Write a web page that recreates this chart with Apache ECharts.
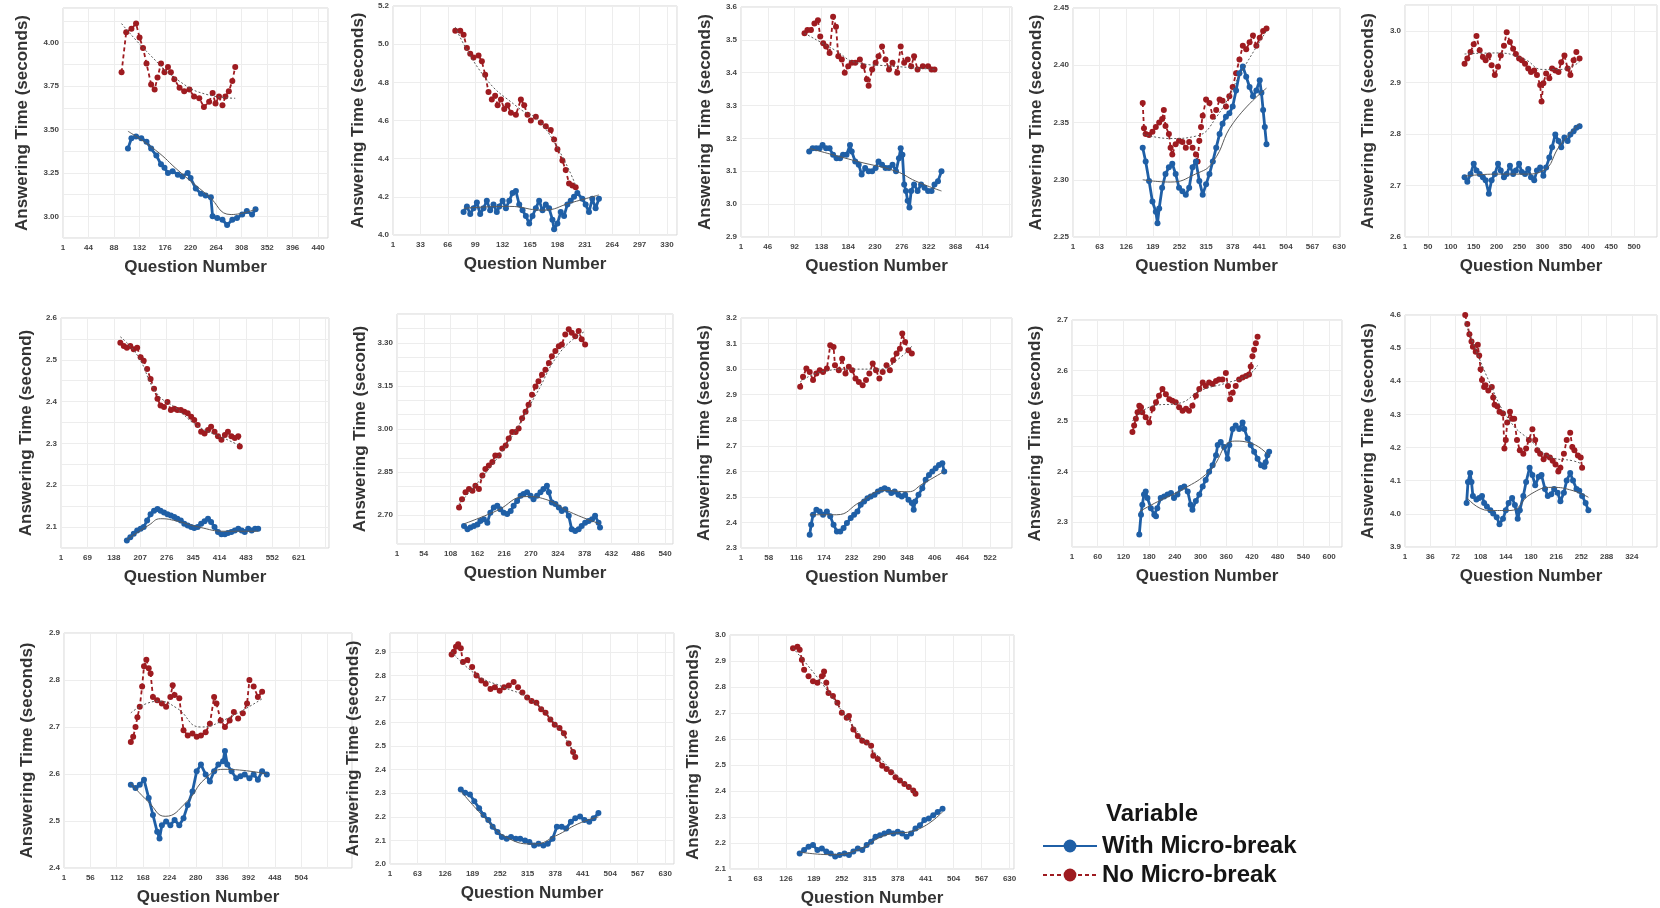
<!DOCTYPE html>
<html><head><meta charset="utf-8">
<script src="https://cdn.jsdelivr.net/npm/echarts@6/dist/echarts.min.js"></script>
<style>html,body{margin:0;padding:0;background:#fff}#c{width:1660px;height:908px}</style>
</head><body><div id="c"></div>
<script>
// ---------------- DATA (question number, answering time) ----------------
const SERIES_NAMES = ['With Micro-break', 'No Micro-break'];

const P1_WITH = [[112,3.39],[118,3.45],[126,3.46],[135,3.45],[144,3.43],[152,3.39],[161,3.35],[169,3.30],[175,3.28],[181,3.25],[189,3.26],[198,3.24],[206,3.23],[215,3.25],[220,3.22],[229,3.16],[238,3.13],[246,3.12],[255,3.11],[258,3.00],[266,2.99],[275,2.98],[283,2.95],[292,2.98],[300,2.99],[309,3.01],[317,3.03],[326,3.01],[332,3.04]];
const P1_NO = [[101,3.83],[109,4.06],[118,4.08],[126,4.11],[132,4.03],[138,3.97],[144,3.88],[152,3.76],[158,3.73],[163,3.80],[169,3.88],[175,3.83],[181,3.86],[186,3.83],[192,3.79],[201,3.74],[209,3.72],[218,3.73],[226,3.69],[235,3.68],[243,3.63],[252,3.66],[258,3.71],[263,3.65],[269,3.69],[275,3.64],[280,3.69],[286,3.72],[292,3.78],[297,3.86]];
const P1_WITH_FIT = [[112,3.49],[160,3.38],[200,3.26],[250,3.12],[290,3.01],[332,3.04]];
const P1_NO_FIT = [[101,4.11],[150,3.93],[200,3.78],[250,3.70],[297,3.68]];

const P2_WITH = [[85,4.12],[89,4.15],[93,4.11],[97,4.14],[101,4.17],[105,4.11],[109,4.14],[113,4.18],[117,4.13],[121,4.16],[125,4.12],[128,4.15],[132,4.18],[136,4.14],[140,4.18],[144,4.22],[148,4.23],[152,4.16],[156,4.13],[160,4.10],[164,4.06],[168,4.10],[172,4.14],[176,4.18],[180,4.13],[184,4.16],[188,4.14],[192,4.08],[194,4.03],[198,4.06],[202,4.12],[206,4.10],[210,4.16],[214,4.18],[218,4.20],[222,4.22],[228,4.19],[232,4.16],[236,4.12],[240,4.19],[244,4.14],[248,4.19]];
const P2_NO = [[75,5.07],[81,5.07],[85,5.05],[89,4.98],[93,4.95],[97,4.93],[103,4.94],[107,4.91],[111,4.84],[115,4.75],[119,4.71],[123,4.73],[126,4.68],[130,4.71],[134,4.66],[138,4.68],[142,4.64],[148,4.63],[154,4.71],[158,4.68],[162,4.63],[166,4.60],[172,4.62],[178,4.59],[184,4.57],[190,4.55],[194,4.50],[198,4.45],[204,4.39],[208,4.34],[212,4.27],[216,4.26],[220,4.25]];
const P2_WITH_FIT = [[85,4.14],[140,4.15],[180,4.13],[215,4.17],[248,4.21]];
const P2_NO_FIT = [[75,5.09],[110,4.83],[150,4.67],[180,4.58],[220,4.26]];

const P3_WITH = [[117,3.16],[123,3.17],[129,3.17],[135,3.17],[140,3.18],[146,3.17],[152,3.17],[158,3.15],[164,3.14],[170,3.14],[175,3.15],[181,3.15],[187,3.18],[190,3.16],[196,3.13],[202,3.12],[207,3.09],[213,3.11],[219,3.10],[225,3.10],[231,3.11],[236,3.13],[242,3.12],[248,3.11],[254,3.11],[260,3.12],[266,3.10],[271,3.14],[274,3.17],[277,3.15],[280,3.06],[283,3.04],[286,3.01],[289,2.99],[292,3.04],[297,3.06],[303,3.04],[309,3.06],[315,3.05],[321,3.04],[327,3.04],[332,3.06],[338,3.07],[344,3.10]];
const P3_NO = [[109,3.52],[114,3.53],[120,3.53],[126,3.55],[132,3.56],[136,3.51],[141,3.49],[146,3.48],[152,3.46],[158,3.57],[163,3.54],[167,3.45],[173,3.44],[178,3.40],[184,3.42],[190,3.43],[196,3.43],[204,3.44],[210,3.42],[216,3.38],[219,3.36],[225,3.41],[231,3.43],[236,3.45],[242,3.48],[248,3.44],[254,3.41],[260,3.43],[268,3.40],[274,3.48],[280,3.43],[286,3.44],[292,3.42],[297,3.45],[303,3.41],[312,3.42],[321,3.42],[327,3.41],[332,3.41]];
const P3_WITH_FIT = [[117,3.17],[200,3.13],[266,3.10],[300,3.07],[344,3.04]];
const P3_NO_FIT = [[109,3.52],[160,3.47],[200,3.43],[260,3.42],[332,3.41]];

const P4_WITH = [[165,2.328],[172,2.316],[180,2.299],[188,2.281],[196,2.272],[200,2.262],[204,2.275],[211,2.293],[219,2.305],[227,2.311],[235,2.314],[243,2.305],[251,2.293],[259,2.290],[267,2.287],[275,2.293],[283,2.311],[291,2.316],[299,2.299],[307,2.287],[315,2.296],[323,2.305],[331,2.316],[339,2.328],[347,2.340],[354,2.349],[362,2.355],[370,2.358],[378,2.364],[386,2.378],[394,2.393],[402,2.399],[410,2.390],[418,2.381],[426,2.373],[434,2.378],[442,2.387],[446,2.376],[450,2.361],[454,2.346],[458,2.331]];
const P4_NO = [[165,2.367],[168,2.345],[172,2.340],[180,2.339],[188,2.342],[196,2.346],[204,2.350],[211,2.353],[215,2.361],[219,2.347],[227,2.340],[231,2.328],[235,2.322],[243,2.331],[251,2.334],[259,2.333],[267,2.328],[275,2.333],[283,2.328],[291,2.322],[295,2.316],[299,2.334],[303,2.346],[307,2.356],[315,2.370],[323,2.367],[331,2.355],[339,2.361],[347,2.370],[354,2.369],[362,2.364],[370,2.373],[378,2.381],[386,2.393],[394,2.405],[402,2.417],[410,2.414],[418,2.420],[426,2.426],[434,2.417],[442,2.424],[450,2.430],[458,2.432]];
const P4_WITH_FIT = [[165,2.300],[230,2.298],[290,2.305],[330,2.315],[380,2.350],[458,2.380]];
const P4_NO_FIT = [[165,2.340],[230,2.336],[290,2.338],[340,2.355],[400,2.395],[458,2.430]];

const P5_WITH = [[130,2.716],[136,2.707],[143,2.722],[150,2.742],[156,2.729],[163,2.722],[170,2.716],[176,2.710],[183,2.684],[189,2.710],[196,2.722],[203,2.742],[209,2.729],[216,2.716],[222,2.722],[229,2.738],[236,2.722],[242,2.729],[249,2.742],[255,2.726],[262,2.722],[269,2.732],[275,2.716],[282,2.710],[288,2.729],[295,2.735],[302,2.719],[308,2.735],[315,2.754],[321,2.774],[328,2.799],[335,2.786],[341,2.774],[348,2.793],[355,2.786],[361,2.799],[368,2.805],[374,2.812],[381,2.815]];
const P5_NO = [[130,2.936],[136,2.946],[143,2.959],[150,2.974],[156,2.990],[163,2.962],[170,2.949],[176,2.943],[183,2.952],[189,2.933],[196,2.914],[203,2.930],[209,2.952],[216,2.971],[222,2.997],[229,2.978],[236,2.965],[242,2.955],[249,2.946],[255,2.943],[262,2.936],[269,2.927],[275,2.920],[282,2.923],[288,2.914],[295,2.895],[298,2.863],[302,2.898],[308,2.917],[315,2.908],[321,2.927],[328,2.923],[335,2.920],[341,2.939],[348,2.952],[355,2.927],[361,2.914],[368,2.943],[374,2.959],[381,2.946]];
const P5_WITH_FIT = [[130,2.718],[200,2.722],[260,2.722],[300,2.728],[340,2.780],[381,2.820]];
const P5_NO_FIT = [[130,2.955],[200,2.957],[260,2.945],[300,2.925],[340,2.925],[381,2.940]];

const P6_WITH = [[172,2.068],[181,2.076],[190,2.084],[199,2.092],[208,2.096],[216,2.100],[225,2.116],[234,2.131],[243,2.139],[252,2.143],[260,2.139],[269,2.135],[278,2.131],[287,2.128],[296,2.124],[304,2.120],[313,2.116],[322,2.108],[331,2.104],[340,2.100],[348,2.098],[357,2.100],[366,2.108],[375,2.114],[384,2.120],[392,2.112],[401,2.100],[410,2.088],[419,2.083],[428,2.083],[436,2.086],[445,2.088],[454,2.092],[463,2.096],[472,2.092],[480,2.088],[489,2.096],[498,2.092],[507,2.096],[515,2.096]];
const P6_NO = [[155,2.541],[164,2.533],[172,2.529],[181,2.533],[190,2.525],[199,2.529],[208,2.506],[216,2.498],[225,2.478],[234,2.454],[243,2.431],[252,2.407],[260,2.391],[269,2.387],[278,2.399],[287,2.380],[296,2.383],[304,2.380],[313,2.380],[322,2.376],[331,2.372],[340,2.364],[348,2.356],[357,2.344],[366,2.328],[375,2.324],[384,2.332],[392,2.340],[401,2.328],[410,2.317],[419,2.309],[428,2.320],[436,2.328],[445,2.317],[454,2.313],[463,2.317],[467,2.293]];
const P6_WITH_FIT = [[172,2.070],[230,2.105],[260,2.120],[300,2.115],[360,2.100],[430,2.090],[515,2.090]];
const P6_NO_FIT = [[155,2.555],[200,2.510],[250,2.420],[300,2.385],[360,2.340],[420,2.315],[467,2.295]];

const P7_WITH = [[135,2.663],[142,2.651],[148,2.657],[155,2.663],[162,2.668],[168,2.680],[175,2.686],[182,2.674],[188,2.709],[195,2.727],[202,2.733],[208,2.721],[215,2.709],[222,2.704],[229,2.715],[235,2.733],[242,2.750],[249,2.768],[255,2.774],[262,2.780],[269,2.768],[275,2.756],[282,2.768],[289,2.780],[295,2.791],[302,2.803],[306,2.780],[312,2.744],[319,2.739],[326,2.727],[332,2.715],[339,2.721],[346,2.698],[352,2.651],[359,2.645],[366,2.651],[372,2.663],[379,2.674],[386,2.680],[393,2.686],[399,2.698],[406,2.674],[409,2.657]];
const P7_NO = [[125,2.727],[131,2.756],[138,2.780],[145,2.791],[152,2.785],[158,2.803],[165,2.791],[172,2.838],[178,2.861],[185,2.873],[192,2.885],[198,2.908],[205,2.908],[212,2.932],[219,2.943],[225,2.967],[232,2.990],[239,2.990],[245,3.002],[252,3.037],[259,3.060],[265,3.084],[272,3.119],[279,3.148],[285,3.166],[292,3.189],[299,3.206],[306,3.230],[312,3.253],[319,3.271],[326,3.288],[332,3.294],[339,3.329],[346,3.347],[352,3.335],[359,3.323],[366,3.341],[372,3.312],[379,3.294]];
const P7_WITH_FIT = [[135,2.670],[200,2.715],[260,2.765],[300,2.755],[350,2.710],[409,2.670]];
const P7_NO_FIT = [[125,2.740],[180,2.850],[230,2.970],[280,3.120],[330,3.270],[379,3.340]];

const P8_WITH = [[144,2.352],[147,2.391],[151,2.430],[158,2.450],[165,2.443],[172,2.430],[180,2.443],[187,2.424],[194,2.391],[201,2.365],[208,2.365],[215,2.378],[222,2.398],[230,2.417],[237,2.430],[244,2.443],[251,2.469],[258,2.482],[265,2.495],[272,2.502],[280,2.508],[287,2.521],[294,2.528],[301,2.534],[308,2.528],[315,2.515],[322,2.521],[330,2.508],[337,2.502],[344,2.508],[351,2.489],[358,2.476],[362,2.450],[365,2.482],[372,2.508],[380,2.534],[387,2.567],[394,2.586],[401,2.599],[408,2.612],[415,2.625],[422,2.632],[426,2.599]];
const P8_NO = [[124,2.931],[130,2.970],[137,3.002],[144,2.989],[151,2.957],[158,2.983],[165,2.996],[172,2.989],[180,3.002],[187,3.093],[194,3.087],[197,3.015],[205,2.996],[212,3.041],[219,2.983],[226,3.009],[233,2.996],[240,2.963],[247,2.950],[255,2.937],[262,2.957],[269,2.983],[276,3.022],[283,2.996],[290,2.963],[297,2.989],[305,3.015],[312,2.996],[319,3.035],[326,3.061],[333,3.080],[338,3.139],[344,3.106],[351,3.074],[358,3.061]];
const P8_WITH_FIT = [[144,2.430],[200,2.430],[250,2.480],[300,2.525],[350,2.520],[380,2.550],[426,2.600]];
const P8_NO_FIT = [[124,2.950],[170,2.990],[230,3.000],[290,3.000],[330,3.040],[358,3.090]];

const P9_WITH = [[157,2.275],[161,2.314],[164,2.334],[168,2.354],[172,2.360],[176,2.347],[184,2.327],[192,2.314],[196,2.311],[199,2.327],[207,2.347],[215,2.350],[223,2.354],[231,2.357],[238,2.347],[246,2.354],[254,2.367],[262,2.370],[270,2.360],[277,2.334],[281,2.324],[289,2.341],[297,2.354],[305,2.370],[312,2.383],[320,2.399],[328,2.412],[336,2.432],[340,2.452],[347,2.458],[355,2.448],[363,2.425],[367,2.452],[375,2.484],[382,2.491],[390,2.484],[398,2.497],[402,2.484],[410,2.465],[417,2.452],[425,2.439],[433,2.425],[441,2.412],[449,2.409],[452,2.418],[456,2.432],[460,2.439]];
const P9_NO = [[141,2.478],[145,2.491],[149,2.504],[153,2.517],[157,2.530],[161,2.527],[164,2.517],[172,2.507],[180,2.497],[188,2.524],[196,2.537],[203,2.550],[211,2.563],[219,2.553],[227,2.543],[234,2.540],[242,2.537],[250,2.527],[258,2.520],[266,2.524],[273,2.520],[281,2.530],[289,2.550],[297,2.563],[305,2.576],[312,2.569],[320,2.576],[328,2.573],[336,2.579],[343,2.582],[351,2.582],[359,2.595],[364,2.569],[369,2.543],[375,2.556],[382,2.569],[390,2.582],[398,2.586],[406,2.589],[413,2.592],[417,2.608],[421,2.628],[425,2.641],[429,2.654],[433,2.667]];
const P9_WITH_FIT = [[157,2.320],[200,2.340],[260,2.365],[320,2.400],[380,2.460],[420,2.455],[460,2.430]];
const P9_NO_FIT = [[141,2.500],[190,2.530],[250,2.535],[300,2.560],[360,2.575],[410,2.590],[433,2.610]];

const P10_WITH = [[88,4.033],[90,4.096],[93,4.123],[95,4.096],[97,4.054],[102,4.043],[106,4.048],[110,4.054],[113,4.033],[117,4.022],[122,4.011],[126,4.001],[131,3.990],[135,3.969],[140,3.985],[144,4.011],[148,4.033],[153,4.048],[157,4.027],[161,3.985],[164,4.011],[169,4.054],[173,4.096],[178,4.139],[182,4.117],[186,4.086],[191,4.112],[195,4.117],[200,4.075],[204,4.054],[209,4.059],[213,4.075],[218,4.064],[222,4.038],[227,4.064],[231,4.101],[236,4.123],[240,4.101],[245,4.075],[249,4.070],[253,4.054],[258,4.033],[262,4.011]];
const P10_NO = [[86,4.600],[89,4.573],[92,4.542],[95,4.520],[97,4.504],[101,4.489],[104,4.510],[106,4.478],[108,4.436],[110,4.404],[113,4.383],[115,4.388],[119,4.372],[124,4.383],[126,4.351],[128,4.329],[132,4.324],[135,4.308],[140,4.303],[142,4.197],[144,4.223],[146,4.276],[150,4.308],[153,4.287],[156,4.287],[160,4.223],[164,4.192],[169,4.181],[173,4.197],[177,4.223],[182,4.255],[186,4.223],[189,4.192],[193,4.181],[198,4.165],[202,4.176],[207,4.170],[211,4.160],[215,4.149],[219,4.128],[222,4.139],[227,4.181],[231,4.223],[236,4.245],[239,4.202],[242,4.192],[247,4.176],[251,4.170],[253,4.139]];
const P10_WITH_FIT = [[88,4.050],[120,4.010],[150,4.010],[180,4.060],[210,4.080],[240,4.070],[262,4.050]];
const P10_NO_FIT = [[86,4.580],[120,4.400],[150,4.280],[180,4.220],[210,4.170],[240,4.160],[253,4.150]];

const P11_WITH = [[142,2.577],[152,2.570],[161,2.577],[170,2.588],[180,2.549],[189,2.513],[198,2.477],[203,2.463],[208,2.491],[217,2.499],[226,2.491],[235,2.502],[245,2.491],[254,2.506],[263,2.534],[273,2.563],[282,2.606],[291,2.620],[301,2.599],[310,2.584],[319,2.606],[328,2.620],[338,2.627],[342,2.649],[347,2.620],[356,2.606],[366,2.591],[375,2.595],[384,2.599],[394,2.591],[403,2.599],[412,2.588],[421,2.606],[431,2.599]];
const P11_NO = [[142,2.668],[147,2.679],[152,2.700],[156,2.721],[161,2.743],[166,2.786],[170,2.829],[175,2.843],[180,2.825],[184,2.814],[189,2.764],[198,2.757],[208,2.750],[217,2.743],[226,2.764],[231,2.789],[235,2.768],[245,2.761],[254,2.693],[263,2.682],[273,2.686],[282,2.679],[291,2.682],[301,2.689],[310,2.707],[319,2.764],[324,2.750],[333,2.714],[342,2.700],[352,2.714],[361,2.732],[370,2.718],[380,2.729],[389,2.750],[394,2.800],[403,2.786],[412,2.764],[421,2.775]];
const P11_WITH_FIT = [[142,2.580],[180,2.540],[215,2.510],[260,2.540],[300,2.590],[340,2.610],[431,2.600]];
const P11_NO_FIT = [[142,2.730],[200,2.755],[240,2.740],[290,2.700],[330,2.710],[421,2.760]];

const P12_WITH = [[162,2.316],[172,2.302],[183,2.295],[193,2.266],[204,2.237],[214,2.208],[225,2.187],[235,2.158],[246,2.136],[256,2.115],[267,2.107],[277,2.115],[288,2.107],[298,2.107],[309,2.100],[319,2.093],[330,2.079],[340,2.086],[351,2.079],[361,2.086],[372,2.107],[382,2.158],[393,2.158],[403,2.151],[414,2.179],[424,2.194],[435,2.201],[445,2.187],[456,2.179],[466,2.194],[477,2.216]];
const P12_NO = [[141,2.889],[146,2.900],[151,2.922],[156,2.932],[162,2.915],[167,2.857],[177,2.865],[188,2.836],[198,2.800],[209,2.779],[219,2.765],[230,2.742],[240,2.750],[251,2.735],[261,2.750],[272,2.757],[283,2.772],[293,2.750],[303,2.728],[314,2.706],[324,2.692],[335,2.684],[346,2.656],[356,2.642],[367,2.613],[377,2.591],[388,2.577],[398,2.555],[409,2.511],[419,2.475],[424,2.454]];
const P12_WITH_FIT = [[162,2.310],[220,2.190],[270,2.110],[330,2.085],[380,2.120],[430,2.170],[477,2.200]];
const P12_NO_FIT = [[141,2.900],[200,2.800],[260,2.750],[320,2.700],[380,2.590],[424,2.460]];

const P13_WITH = [[157,2.160],[167,2.173],[177,2.186],[187,2.192],[197,2.173],[207,2.179],[217,2.167],[227,2.160],[237,2.148],[247,2.154],[258,2.160],[268,2.154],[278,2.167],[288,2.179],[298,2.173],[308,2.192],[318,2.205],[328,2.224],[338,2.230],[348,2.237],[358,2.243],[368,2.237],[378,2.243],[388,2.237],[398,2.224],[408,2.237],[418,2.256],[428,2.268],[438,2.288],[448,2.294],[458,2.307],[468,2.319],[479,2.332]];
const P13_NO = [[142,2.949],[152,2.955],[157,2.943],[162,2.905],[167,2.866],[177,2.841],[187,2.822],[197,2.816],[207,2.841],[212,2.860],[217,2.816],[222,2.777],[232,2.765],[242,2.739],[252,2.701],[263,2.682],[268,2.688],[278,2.637],[288,2.612],[298,2.593],[308,2.587],[318,2.574],[323,2.536],[333,2.523],[343,2.497],[353,2.485],[363,2.472],[373,2.453],[383,2.440],[393,2.427],[403,2.415],[413,2.402],[418,2.389]];
const P13_WITH_FIT = [[157,2.165],[230,2.155],[290,2.175],[350,2.230],[420,2.250],[479,2.320]];
const P13_NO_FIT = [[142,2.950],[200,2.830],[260,2.690],[320,2.560],[418,2.390]];

// ---------------- TICK LABELS ----------------
const P1_XTICKS = ['1','44','88','132','176','220','264','308','352','396','440'];
const P2_XTICKS = ['1','33','66','99','132','165','198','231','264','297','330'];
const P3_XTICKS = ['1','46','92','138','184','230','276','322','368','414'];
const P4_XTICKS = ['1','63','126','189','252','315','378','441','504','567','630'];
const P5_XTICKS = ['1','50','100','150','200','250','300','350','400','450','500'];
const P6_XTICKS = ['1','69','138','207','276','345','414','483','552','621'];
const P7_XTICKS = ['1','54','108','162','216','270','324','378','432','486','540'];
const P8_XTICKS = ['1','58','116','174','232','290','348','406','464','522'];
const P9_XTICKS = ['1','60','120','180','240','300','360','420','480','540','600'];
const P10_XTICKS = ['1','36','72','108','144','180','216','252','288','324'];
const P11_XTICKS = ['1','56','112','168','224','280','336','392','448','504'];
const P12_XTICKS = ['1','63','126','189','252','315','378','441','504','567','630'];
const P13_XTICKS = ['1','63','126','189','252','315','378','441','504','567','630'];

const P1_YTICKS = ['3.00','3.25','3.50','3.75','4.00'];
const P2_YTICKS = ['4.0','4.2','4.4','4.6','4.8','5.0','5.2'];
const P3_YTICKS = ['2.9','3.0','3.1','3.2','3.3','3.4','3.5','3.6'];
const P4_YTICKS = ['2.25','2.30','2.35','2.40','2.45'];
const P5_YTICKS = ['2.6','2.7','2.8','2.9','3.0'];
const P6_YTICKS = ['2.1','2.2','2.3','2.4','2.5','2.6'];
const P7_YTICKS = ['2.70','2.85','3.00','3.15','3.30'];
const P8_YTICKS = ['2.3','2.4','2.5','2.6','2.7','2.8','2.9','3.0','3.1','3.2'];
const P9_YTICKS = ['2.3','2.4','2.5','2.6','2.7'];
const P10_YTICKS = ['3.9','4.0','4.1','4.2','4.3','4.4','4.5','4.6'];
const P11_YTICKS = ['2.4','2.5','2.6','2.7','2.8','2.9'];
const P12_YTICKS = ['2.0','2.1','2.2','2.3','2.4','2.5','2.6','2.7','2.8','2.9'];
const P13_YTICKS = ['2.1','2.2','2.3','2.4','2.5','2.6','2.7','2.8','2.9','3.0'];

const Y_TITLES = ['Answering Time (seconds)','Answering Time (seconds)','Answering Time (seconds)','Answering Time (seconds)','Answering Time (seconds)',
  'Answering Time (second)','Answering Time (second)','Answering Time (seconds)','Answering Time (seconds)','Answering Time (seconds)',
  'Answering Time (seconds)','Answering Time (seconds)','Answering Time (seconds)'];
const X_TITLE = 'Question Number';

// ---------------- PANEL REGISTRY ----------------
const PANELS = [
  [P1_WITH,P1_NO,P1_WITH_FIT,P1_NO_FIT,P1_XTICKS,P1_YTICKS],
  [P2_WITH,P2_NO,P2_WITH_FIT,P2_NO_FIT,P2_XTICKS,P2_YTICKS],
  [P3_WITH,P3_NO,P3_WITH_FIT,P3_NO_FIT,P3_XTICKS,P3_YTICKS],
  [P4_WITH,P4_NO,P4_WITH_FIT,P4_NO_FIT,P4_XTICKS,P4_YTICKS],
  [P5_WITH,P5_NO,P5_WITH_FIT,P5_NO_FIT,P5_XTICKS,P5_YTICKS],
  [P6_WITH,P6_NO,P6_WITH_FIT,P6_NO_FIT,P6_XTICKS,P6_YTICKS],
  [P7_WITH,P7_NO,P7_WITH_FIT,P7_NO_FIT,P7_XTICKS,P7_YTICKS],
  [P8_WITH,P8_NO,P8_WITH_FIT,P8_NO_FIT,P8_XTICKS,P8_YTICKS],
  [P9_WITH,P9_NO,P9_WITH_FIT,P9_NO_FIT,P9_XTICKS,P9_YTICKS],
  [P10_WITH,P10_NO,P10_WITH_FIT,P10_NO_FIT,P10_XTICKS,P10_YTICKS],
  [P11_WITH,P11_NO,P11_WITH_FIT,P11_NO_FIT,P11_XTICKS,P11_YTICKS],
  [P12_WITH,P12_NO,P12_WITH_FIT,P12_NO_FIT,P12_XTICKS,P12_YTICKS],
  [P13_WITH,P13_NO,P13_WITH_FIT,P13_NO_FIT,P13_XTICKS,P13_YTICKS]
];

// axis scale settings: [xMax, xStep, yMin, yMax, yStep]
const SCALES = [
  [457,44,2.875,4.2,0.125],
  [342,33,4.0,5.2,0.2],
  [465,46,2.9,3.6,0.1],
  [632,63,2.25,2.45,0.05],
  [550,50,2.6,3.05,0.1],
  [700,69,2.05,2.6,0.05],
  [556,54,2.6,3.4,0.05],
  [568,58,2.3,3.2,0.1],
  [630,60,2.25,2.7,0.05],
  [360,36,3.9,4.6,0.1],
  [612,56,2.4,2.9,0.1],
  [650,63,2.0,2.98,0.1],
  [640,63,2.1,3.0,0.1]
];

// layout: [left, top, width, height, yNameGap]
const LAYOUT = [
  [63,8,265,230,32],[393,6,284,229,26],[741,7,271,230,27],[1073,8,267,229,28],[1405,5,277,232,28],
  [61,318,268,230,26],[397,314,276,230,28],[741,318,271,230,28],[1072,320,270,227,28],[1405,315,268,232,28],
  [64,633,288,235,28],[390,633,284,231,28],[730,635,284,235,28]
];

// ---------------- BUILD ----------------
const BLUE = '#1f5fa6', RED = '#9e1b20', FIT = '#5a5a5a';
const FONT = '"Liberation Sans", Arial, sans-serif';

function yFmt(list){ return function(v){ for (const s of list){ if (Math.abs(parseFloat(s)-v) < 1e-6) return s; } return ''; }; }
function xFmt(list){ return function(v){ for (const s of list){ const n = (s === '1') ? 0 : parseFloat(s); if (Math.abs(n-v) < 1e-6) return s; } return ''; }; }

const grid = [], xAxis = [], yAxis = [], series = [];
PANELS.forEach((p, i) => {
  const [w, n, wf, nf, xt, yt] = p;
  const [xMax, xStep, yMin, yMax, yStep] = SCALES[i];
  const [l, t, wd, ht, yGap] = LAYOUT[i];
  grid.push({left:l, top:t, width:wd, height:ht, show:true, borderColor:'#d6d6d6', borderWidth:1, backgroundColor:'#fff'});
  xAxis.push({type:'value', gridIndex:i, min:0, max:xMax, interval:xStep,
    name:X_TITLE, nameLocation:'middle', nameGap:21,
    nameTextStyle:{fontFamily:FONT, fontSize:17, fontWeight:'bold', color:'#333'},
    axisLine:{show:false}, axisTick:{show:false},
    axisLabel:{formatter:xFmt(xt), fontFamily:FONT, fontSize:8, fontWeight:'bold', color:'#444', margin:6, showMinLabel:true, showMaxLabel:true},
    splitLine:{show:true, lineStyle:{color:'#ededed', width:1}}});
  yAxis.push({type:'value', gridIndex:i, min:yMin, max:yMax, interval:yStep,
    name:Y_TITLES[i], nameLocation:'middle', nameGap:yGap,
    nameTextStyle:{fontFamily:FONT, fontSize:17, fontWeight:'bold', color:'#333'},
    axisLine:{show:false}, axisTick:{show:false},
    axisLabel:{formatter:yFmt(yt), fontFamily:FONT, fontSize:8, fontWeight:'bold', color:'#444', margin:4, showMinLabel:true, showMaxLabel:true},
    splitLine:{show:true, lineStyle:{color:'#ededed', width:1}}});
  series.push({name:SERIES_NAMES[1], type:'line', xAxisIndex:i, yAxisIndex:i, data:n,
    symbol:'circle', symbolSize:6, showSymbol:true, z:3,
    lineStyle:{color:RED, width:1.8, type:[4,3]}, itemStyle:{color:RED}});
  series.push({name:SERIES_NAMES[0], type:'line', xAxisIndex:i, yAxisIndex:i, data:w,
    symbol:'circle', symbolSize:6, showSymbol:true, z:4,
    lineStyle:{color:BLUE, width:2.8}, itemStyle:{color:BLUE}});
  series.push({name:'fitNo', type:'line', xAxisIndex:i, yAxisIndex:i, data:nf, smooth:0.5,
    symbol:'none', z:5, lineStyle:{color:FIT, width:1, type:[2,2]}, silent:true});
  series.push({name:'fitWith', type:'line', xAxisIndex:i, yAxisIndex:i, data:wf, smooth:0.5,
    symbol:'none', z:5, lineStyle:{color:FIT, width:1}, silent:true});
});

const chart = echarts.init(document.getElementById('c'), null, {renderer:'canvas'});
chart.setOption({
  animation:false,
  backgroundColor:'#fff',
  title:{text:'Variable', left:1101, top:797, textStyle:{fontFamily:FONT, fontSize:24, fontWeight:'bold', color:'#151515'}},
  legend:{data:SERIES_NAMES, orient:'vertical', left:1037, top:829, itemWidth:54, itemHeight:16, itemGap:5,
    textStyle:{fontFamily:FONT, fontSize:24, fontWeight:'bold', color:'#151515'}},
  grid, xAxis, yAxis, series
});
</script></body></html>
